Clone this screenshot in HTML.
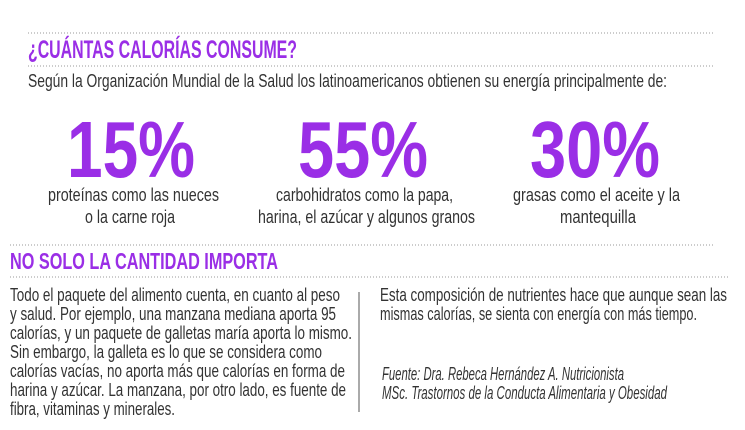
<!DOCTYPE html>
<html><head><meta charset="utf-8"><style>
html,body{margin:0;padding:0;background:#fff;width:745px;height:430px;overflow:hidden}
svg{display:block}
text{font-family:"Liberation Sans Narrow","Liberation Sans",sans-serif}
.t{fill:#333;font-size:18px}
.p{fill:#9a2ee6;font-weight:bold}
.d{stroke:#999;stroke-width:1;stroke-dasharray:1 2}
</style></head><body>
<svg width="745" height="430" viewBox="0 0 745 430" xmlns="http://www.w3.org/2000/svg">
<line class="d" x1="28" y1="33" x2="715" y2="33"/>
<line class="d" x1="28" y1="66" x2="715" y2="66"/>
<line class="d" x1="10" y1="245" x2="715" y2="245"/>
<line class="d" x1="10" y1="277" x2="728" y2="277"/>
<line x1="359" y1="292" x2="359" y2="412" stroke="#555" stroke-width="1"/>
<text class="p" x="28" y="58" font-size="25" textLength="269" lengthAdjust="spacingAndGlyphs">¿CUÁNTAS CALORÍAS CONSUME?</text>
<text class="t" x="28" y="87" textLength="639" lengthAdjust="spacingAndGlyphs">Según la Organización Mundial de la Salud los latinoamericanos obtienen su energía principalmente de:</text>
<text class="p" x="67" y="177" font-size="80" textLength="128" lengthAdjust="spacingAndGlyphs">15%</text>
<text class="p" x="298" y="177" font-size="80" textLength="130" lengthAdjust="spacingAndGlyphs">55%</text>
<text class="p" x="530" y="177" font-size="80" textLength="130" lengthAdjust="spacingAndGlyphs">30%</text>
<text class="t" x="48" y="201" textLength="171" lengthAdjust="spacingAndGlyphs">proteínas como las nueces</text>
<text class="t" x="85" y="223" textLength="90" lengthAdjust="spacingAndGlyphs">o la carne roja</text>
<text class="t" x="276" y="201" textLength="177" lengthAdjust="spacingAndGlyphs">carbohidratos como la papa,</text>
<text class="t" x="258" y="223" textLength="217" lengthAdjust="spacingAndGlyphs">harina, el azúcar y algunos granos</text>
<text class="t" x="513" y="201" textLength="167" lengthAdjust="spacingAndGlyphs">grasas como el aceite y la</text>
<text class="t" x="560" y="223" textLength="76" lengthAdjust="spacingAndGlyphs">mantequilla</text>
<text class="p" x="10" y="269" font-size="23" textLength="268" lengthAdjust="spacingAndGlyphs">NO SOLO LA CANTIDAD IMPORTA</text>
<g class="t">
<text x="10" y="301" textLength="330" lengthAdjust="spacingAndGlyphs">Todo el paquete del alimento cuenta, en cuanto al peso</text>
<text x="10" y="320" textLength="326" lengthAdjust="spacingAndGlyphs">y salud. Por ejemplo, una manzana mediana aporta 95</text>
<text x="10" y="339" textLength="342" lengthAdjust="spacingAndGlyphs">calorías, y un paquete de galletas maría aporta lo mismo.</text>
<text x="10" y="358" textLength="312" lengthAdjust="spacingAndGlyphs">Sin embargo, la galleta es lo que se considera como</text>
<text x="10" y="377" textLength="335" lengthAdjust="spacingAndGlyphs">calorías vacías, no aporta más que calorías en forma de</text>
<text x="10" y="396" textLength="336" lengthAdjust="spacingAndGlyphs">harina y azúcar. La manzana, por otro lado, es fuente de</text>
<text x="10" y="415" textLength="165" lengthAdjust="spacingAndGlyphs">fibra, vitaminas y minerales.</text>
<text x="380" y="301" textLength="347" lengthAdjust="spacingAndGlyphs">Esta composición de nutrientes hace que aunque sean las</text>
<text x="380" y="320" textLength="317" lengthAdjust="spacingAndGlyphs">mismas calorías, se sienta con energía con más tiempo.</text>
</g>
<text class="t" x="382" y="380" font-size="15" font-style="italic" textLength="242" lengthAdjust="spacingAndGlyphs">Fuente: Dra. Rebeca Hernández A. Nutricionista</text>
<text class="t" x="382" y="399" font-size="15" font-style="italic" textLength="285" lengthAdjust="spacingAndGlyphs">MSc. Trastornos de la Conducta Alimentaria y Obesidad</text>
</svg>
</body></html>
